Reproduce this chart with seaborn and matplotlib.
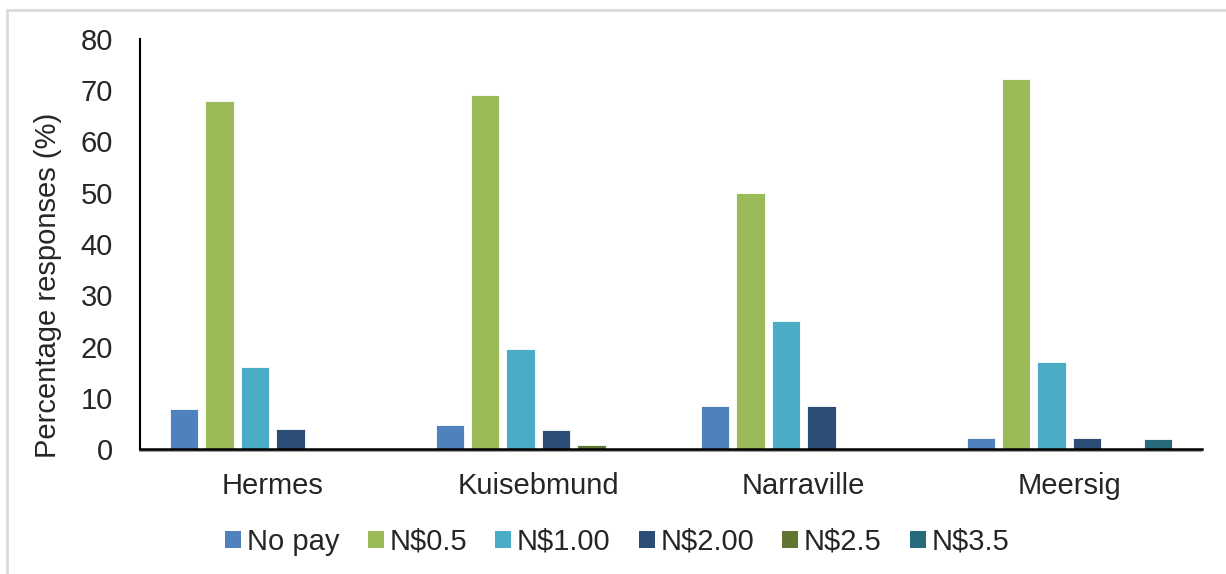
import matplotlib
matplotlib.use("Agg")
import matplotlib.pyplot as plt
import matplotlib.patches as mpatches
import seaborn as sns
import pandas as pd

# Willingness to pay per suburb (% of responses)
suburbs = ["Hermes", "Kuisebmund", "Narraville", "Meersig"]
price_levels = ["No pay", "N$0.5", "N$1.00", "N$2.00", "N$2.5", "N$3.5"]
no_pay = [7.9, 4.7, 8.3, 2.1]
pay_050 = [67.9, 69.1, 49.9, 72.2]
pay_100 = [16.0, 19.5, 25.0, 17.0]
pay_200 = [3.9, 3.7, 8.3, 2.1]
pay_250 = [0.0, 0.8, 0.0, 0.0]
pay_350 = [0.0, 0.0, 0.0, 2.0]
colors = ["#4F81BD", "#9BBB59", "#4BACC6", "#2C4D75", "#5F7530", "#276A7C"]

series = [no_pay, pay_050, pay_100, pay_200, pay_250, pay_350]
rows = []
for level, vals in zip(price_levels, series):
    for sub, v in zip(suburbs, vals):
        rows.append({"Suburb": sub, "Price": level, "Percent": v})
df = pd.DataFrame(rows)

sns.set_style("white")
plt.rcParams["font.family"] = ["Liberation Sans", "DejaVu Sans"]

FS = 21

fig = plt.figure(figsize=(12.26, 5.74), dpi=100)
ax = fig.add_axes([140 / 1226, (574 - 449) / 574, (1202 - 140) / 1226, (449 - 39) / 574])

sns.barplot(data=df, x="Suburb", y="Percent", hue="Price", order=suburbs,
            hue_order=price_levels, palette=colors, saturation=1, width=0.8,
            gap=0.2, edgecolor="#ffffff", linewidth=0.6, ax=ax, legend=False)

ax.set_ylim(0, 80)
ax.set_yticks(range(0, 81, 10))
ax.set_xlim(-0.5, 3.5)
ax.set_xlabel("")
ax.set_ylabel("Percentage responses (%)", fontsize=FS)
ax.yaxis.set_label_coords(-0.0734, 0.40)
ax.tick_params(axis="both", length=0, labelsize=FS)
ax.tick_params(axis="y", pad=19.5)
ax.tick_params(axis="x", pad=16.5)

for side in ["top", "right"]:
    ax.spines[side].set_visible(False)
ax.spines["left"].set_color("black")
ax.spines["left"].set_linewidth(1.5)
ax.spines["bottom"].set_color("black")
ax.spines["bottom"].set_linewidth(1.8)
# soft shadow under the category axis
ax.axhline(-0.35, color="#9a9a9a", lw=1.4, clip_on=False, zorder=0)

handles = [mpatches.Patch(facecolor=c, edgecolor="none", label=l)
           for c, l in zip(colors, price_levels)]
fig.legend(handles=handles, loc="center", bbox_to_anchor=(0.5035, 1 - 542 / 574),
           ncol=6, frameon=False, fontsize=FS, handlelength=0.55,
           handleheight=0.55, handletextpad=0.2, columnspacing=0.96)

# chart-area frame
fig.patches.append(mpatches.Rectangle((7 / 1226, -0.05), 1.2, 1 - 10 / 574 + 0.05,
                                      transform=fig.transFigure, fill=False,
                                      edgecolor="#d9d9d9", linewidth=2))

fig.savefig("out.png", dpi=100, facecolor="white")
